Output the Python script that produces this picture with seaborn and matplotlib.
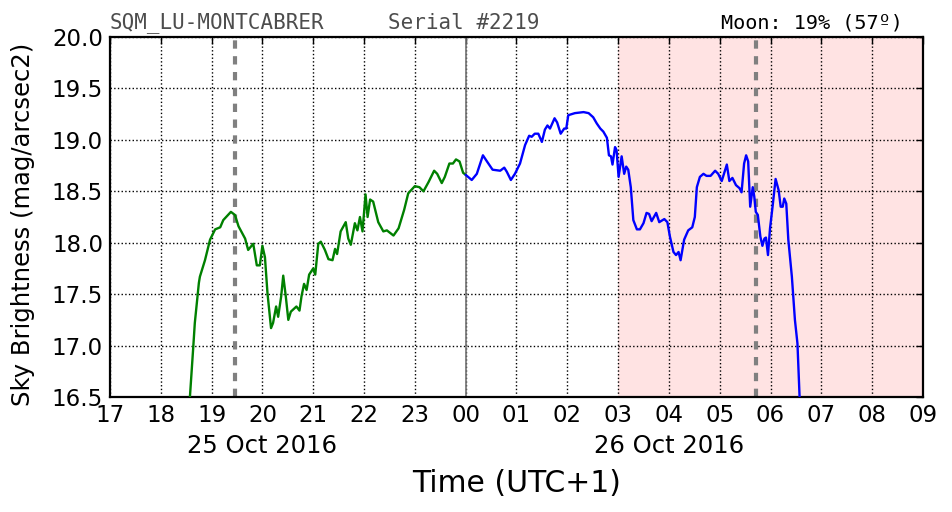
import numpy as np
import pandas as pd
import matplotlib
matplotlib.use('Agg')
import matplotlib.pyplot as plt
import matplotlib.transforms as mtransforms
import seaborn as sns

# sky brightness readings, hours counted from 00:00 on 25 Oct 2016 (UTC+1)
dusk_hours = [18.56, 18.64, 18.67, 18.75, 18.77, 18.87, 18.97, 19.07, 19.17, 19.23,
              19.38, 19.46, 19.53, 19.66, 19.72, 19.82, 19.89, 19.95, 20.00, 20.05,
              20.10, 20.17, 20.21, 20.27, 20.31, 20.37, 20.41, 20.46, 20.51, 20.56,
              20.67, 20.73, 20.77, 20.82, 20.87, 20.92, 21.00, 21.04, 21.10, 21.15,
              21.23, 21.30, 21.38, 21.43, 21.47, 21.54, 21.64, 21.69, 21.74, 21.82,
              21.87, 21.92, 21.97, 22.03, 22.07, 22.12, 22.18, 22.28, 22.38, 22.45,
              22.58, 22.68, 22.79, 22.87, 23.00, 23.09, 23.17, 23.27, 23.38, 23.44,
              23.53, 23.59, 23.68, 23.75, 23.81, 23.88, 23.95, 24.00]
dusk_mag = [16.40, 16.99, 17.22, 17.61, 17.67, 17.83, 18.03, 18.13, 18.15, 18.22,
            18.30, 18.27, 18.16, 18.04, 17.93, 17.99, 17.78, 17.78, 17.97, 17.86,
            17.51, 17.17, 17.22, 17.38, 17.28, 17.48, 17.68, 17.48, 17.25, 17.33,
            17.38, 17.34, 17.48, 17.60, 17.54, 17.69, 17.75, 17.69, 17.99, 18.01,
            17.93, 17.84, 17.83, 17.94, 17.89, 18.11, 18.20, 18.04, 17.98, 18.19,
            18.12, 18.25, 18.11, 18.47, 18.25, 18.42, 18.40, 18.20, 18.11, 18.12,
            18.07, 18.14, 18.32, 18.48, 18.55, 18.54, 18.50, 18.59, 18.70, 18.67,
            18.58, 18.64, 18.77, 18.77, 18.81, 18.79, 18.68, 18.66]

night_hours = [24.00, 24.12, 24.22, 24.34, 24.42, 24.53, 24.68, 24.76, 24.81, 24.89,
               24.97, 25.07, 25.17, 25.25, 25.30, 25.36, 25.43, 25.50, 25.56, 25.61,
               25.66, 25.75, 25.80, 25.87, 25.94, 25.98, 26.02, 26.15, 26.32, 26.42,
               26.51, 26.58, 26.65, 26.71, 26.78, 26.82, 26.86, 26.89, 26.94, 26.97,
               27.01, 27.07, 27.12, 27.16, 27.20, 27.25, 27.30, 27.37, 27.43, 27.50,
               27.56, 27.61, 27.66, 27.75, 27.81, 27.91, 27.97, 28.02, 28.09, 28.14,
               28.19, 28.23, 28.30, 28.38, 28.46, 28.51, 28.55, 28.61, 28.68, 28.74,
               28.82, 28.91, 28.97, 29.04, 29.14, 29.19, 29.25, 29.32, 29.39, 29.43,
               29.48, 29.52, 29.56, 29.60, 29.65, 29.68, 29.71, 29.75, 29.80, 29.84,
               29.88, 29.91, 29.95, 29.99, 30.04, 30.10, 30.16, 30.20, 30.24, 30.27,
               30.31, 30.35, 30.42, 30.48, 30.53, 30.58]
night_mag = [18.66, 18.61, 18.67, 18.85, 18.79, 18.71, 18.70, 18.73, 18.69, 18.61,
             18.67, 18.77, 18.95, 19.04, 19.03, 19.06, 19.06, 18.98, 19.10, 19.14,
             19.11, 19.21, 19.17, 19.06, 19.11, 19.11, 19.24, 19.26, 19.27, 19.26,
             19.22, 19.16, 19.11, 19.08, 19.02, 18.85, 18.84, 18.76, 18.93, 18.90,
             18.64, 18.84, 18.67, 18.74, 18.71, 18.54, 18.22, 18.13, 18.13, 18.19,
             18.29, 18.28, 18.21, 18.29, 18.20, 18.23, 18.20, 18.06, 17.91, 17.88,
             17.91, 17.83, 18.03, 18.12, 18.15, 18.25, 18.54, 18.64, 18.67, 18.65,
             18.65, 18.70, 18.67, 18.60, 18.76, 18.60, 18.63, 18.56, 18.53, 18.49,
             18.77, 18.85, 18.79, 18.35, 18.54, 18.45, 18.30, 18.27, 18.06, 17.97,
             18.04, 18.05, 17.88, 18.14, 18.35, 18.62, 18.51, 18.35, 18.35, 18.43,
             18.38, 18.03, 17.67, 17.25, 17.02, 16.40]

moon_transits = [19.46, 29.71]
moon_up_start = 27.0
hour_ticks = list(range(17, 34))
hour_labels = ['%02d' % (h % 24) for h in hour_ticks]
date_labels = ['25 Oct 2016', '26 Oct 2016']
date_pos = [20, 28]
y_ticks = [16.5, 17.0, 17.5, 18.0, 18.5, 19.0, 19.5, 20.0]

sns.set_style('white')
plt.rcParams['font.family'] = ['DejaVu Sans']
plt.rcParams['text.color'] = 'black'
plt.rcParams['axes.labelcolor'] = 'black'

dusk = pd.DataFrame({'hour': dusk_hours, 'mag': dusk_mag})
night = pd.DataFrame({'hour': night_hours, 'mag': night_mag})

fig = plt.figure(figsize=(9.52, 5.12), dpi=100)
ax = fig.add_axes([0.1155, 0.2246, 0.854, 0.7031])

ax.axvspan(moon_up_start, 33, color='red', alpha=0.11, lw=0, zorder=0)
sns.lineplot(data=dusk, x='hour', y='mag', ax=ax, color='#008000', lw=1.7,
             sort=False, estimator=None, zorder=3)
sns.lineplot(data=night, x='hour', y='mag', ax=ax, color='#0000ff', lw=1.7,
             sort=False, estimator=None, zorder=3)
for t in moon_transits:
    ax.axvline(t, color='0.5', lw=3, dashes=(2.0, 1.8), zorder=2)
ax.axvline(24, color='0.45', lw=1.2, zorder=2)

ax.set_xlim(17, 33)
ax.set_ylim(16.5, 20.0)
ax.set_xticks(hour_ticks)
ax.set_xticklabels(hour_labels)
ax.set_yticks(y_ticks)
ax.set_yticklabels(['%.1f' % v for v in y_ticks])
ax.grid(True, color='black', linestyle=':', lw=1)
ax.tick_params(direction='in', length=5, width=1, labelsize=16.5, top=True, right=True,
               pad=5, colors='black')
for s in ax.spines.values():
    s.set_color('black')
    s.set_linewidth(1.6)

trans = mtransforms.blended_transform_factory(ax.transData, ax.transAxes)
for lab, pos in zip(date_labels, date_pos):
    ax.text(pos, -0.135, lab, transform=trans, ha='center', va='center', fontsize=17.5,
            color='black')

ax.set_xlabel('Time (UTC+1)', fontsize=21.5, color='black')
ax.xaxis.set_label_coords(0.5, -0.2)
ax.set_ylabel('Sky Brightness (mag/arcsec2)', fontsize=17.5, color='black')
ax.yaxis.set_label_coords(-0.092, 0.48)

ax.text(0.0, 1.012, 'SQM_LU-MONTCABRER', transform=ax.transAxes, ha='left', va='bottom',
        fontsize=15, family='DejaVu Sans Mono', color='0.3')
ax.text(0.342, 1.012, 'Serial #2219', transform=ax.transAxes, ha='left', va='bottom',
        fontsize=15, family='DejaVu Sans Mono', color='0.3')
ax.text(0.975, 1.012, 'Moon: 19% (57º)', transform=ax.transAxes, ha='right', va='bottom',
        fontsize=14.5, family='DejaVu Sans Mono', color='black')

fig.savefig('out.png', dpi=100)
